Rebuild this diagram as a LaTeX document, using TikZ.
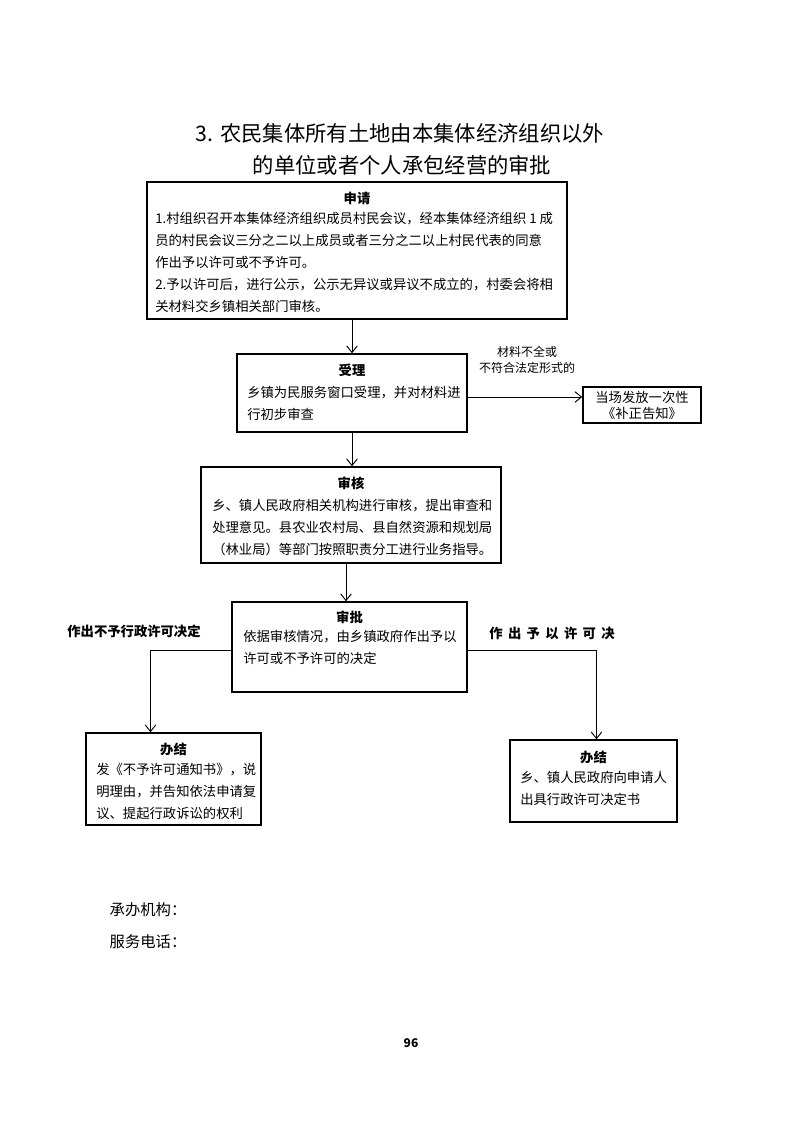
\documentclass[tikz,border=0pt]{standalone}
\usepackage{fontspec}
\setmainfont{Noto Sans CJK SC}
\usepackage{tikz}
\usetikzlibrary{arrows.meta, positioning, calc}

\begin{document}
\begin{tikzpicture}[x=0.75pt,y=-0.75pt,
    box/.style={draw,line width=1.1pt,inner sep=0pt},
    head/.style={font=\fontsize{10}{12}\selectfont\bfseries},
    body/.style={font=\fontsize{10}{16.5}\selectfont,align=left,anchor=north west,inner sep=0pt},
    flow/.style={-{Straight Barb[length=5pt,width=8pt]},line width=0.7pt}]
    \useasboundingbox (0,0) rectangle (793,1122);

    % Titolo
    \node[font=\fontsize{16}{19}\selectfont] (title1) at (400,133) {3. 农民集体所有土地由本集体经济组织以外};
    \node[font=\fontsize{16}{19}\selectfont] (title2) at (402,165) {的单位或者个人承包经营的审批};

    % 申请
    \node[box,minimum width=315pt,minimum height=102.75pt] (shenqing) at (357,250.5) {};
    \node[head] (shenqingT) at (357,198) {申请};
    \node[body] (shenqingB) at (155,212) {1.村组织召开本集体经济组织成员村民会议，经本集体经济组织 1 成\\
        员的村民会议三分之二以上成员或者三分之二以上村民代表的同意\\
        作出予以许可或不予许可。\\
        2.予以许可后，进行公示，公示无异议或异议不成立的，村委会将相\\
        关材料交乡镇相关部门审核。};

    % 受理
    \node[box,minimum width=172.5pt,minimum height=58.5pt] (shouli) at (352,393) {};
    \node[head] (shouliT) at (352,370) {受理};
    \node[body] (shouliB) at (247,386) {乡镇为民服务窗口受理，并对材料进\\
        行初步审查};

    % 补正告知
    \node[box,minimum width=88.5pt,minimum height=27pt] (buzheng) at (642,405) {};
    \node[font=\fontsize{10}{12}\selectfont,align=center] (buzhengB) at (642,405) {当场发放一次性\\《补正告知》};
    \node[font=\fontsize{9}{12}\selectfont,align=center] (buquan) at (527,360) {材料不全或\\不符合法定形式的};

    % 审核
    \node[box,minimum width=225pt,minimum height=72pt] (shenhe) at (351,515) {};
    \node[head] (shenheT) at (351,483) {审核};
    \node[body] (shenheB) at (212,499) {乡、镇人民政府相关机构进行审核，提出审查和\\
        处理意见。县农业农村局、县自然资源和规划局\\
        （林业局）等部门按照职责分工进行业务指导。};

    % 审批
    \node[box,minimum width=176.25pt,minimum height=67.5pt] (shenpi) at (349.5,647) {};
    \node[head] (shenpiT) at (349.5,617) {审批};
    \node[body] (shenpiB) at (243,630) {依据审核情况，由乡镇政府作出予以\\
        许可或不予许可的决定};

    % 办结
    \node[box,minimum width=131.25pt,minimum height=69pt] (banjieNo) at (173.5,779) {};
    \node[head] (banjieNoT) at (173.5,749) {办结};
    \node[body] (banjieNoB) at (96,763) {发《不予许可通知书》，说\\
        明理由，并告知依法申请复\\
        议、提起行政诉讼的权利};

    \node[box,minimum width=125.25pt,minimum height=61.5pt] (banjieYes) at (593.5,781) {};
    \node[head] (banjieYesT) at (593.5,757) {办结};
    \node[body] (banjieYesB) at (520,771) {乡、镇人民政府向申请人\\
        出具行政许可决定书};

    \node[head] (noLbl) at (134,631) {作出不予行政许可决定};
    \node[head] (yesLbl) at (552,633) {作\kern4pt 出\kern4pt 予\kern4pt 以\kern4pt 许\kern4pt 可\kern4pt 决};

    % Frecce
    \draw[flow] (shouli.north |- shenqing.south) -- (shouli.north);
    \draw[flow] (shouli.south) -- (shouli.south |- shenhe.north);
    \draw[flow] ($(shouli.east)+(0,4)$) -- ($(shouli.east -| buzheng.west)+(0,4)$);
    \draw[flow] ($(shenhe.south)+(-5,0)$) -- ($(shenhe.south |- shenpi.north)+(-5,0)$);
    \draw[flow] ($(shenpi.west)+(0,3)$) -| ($(banjieNo.north)+(-23,0)$);
    \draw[flow] ($(shenpi.east)+(0,3)$) -| ($(banjieYes.north)+(3,0)$);

    % Piè di pagina
    \node[font=\fontsize{11.5}{14}\selectfont,anchor=west] (chengban) at (105,910) {承办机构：};
    \node[font=\fontsize{11.5}{14}\selectfont,anchor=west] (dianhua) at (105,942) {服务电话：};
    \node[font=\fontsize{9}{11}\selectfont\bfseries] (pagenum) at (411,1043) {96};
\end{tikzpicture}
\end{document}
